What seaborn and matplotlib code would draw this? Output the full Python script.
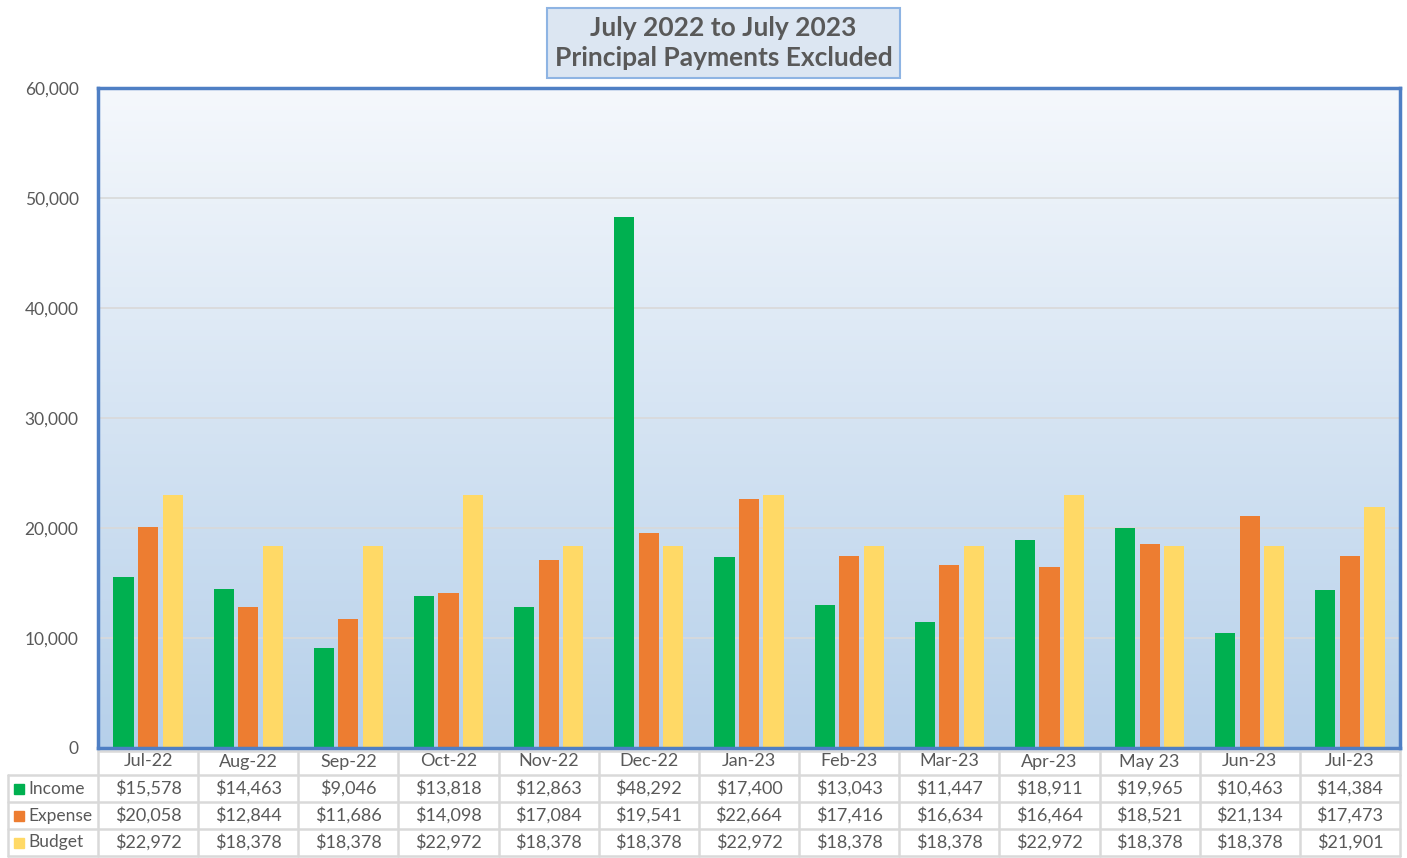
import pandas as pd
import matplotlib.pyplot as plt
import seaborn as sns
import numpy as np
from matplotlib.colors import LinearSegmentedColormap
from matplotlib.lines import Line2D
from matplotlib.ticker import FuncFormatter

months = ["Jul-22", "Aug-22", "Sep-22", "Oct-22", "Nov-22", "Dec-22", "Jan-23",
          "Feb-23", "Mar-23", "Apr-23", "May 23", "Jun-23", "Jul-23"]
income = [15578, 14463, 9046, 13818, 12863, 48292, 17400, 13043, 11447, 18911, 19965, 10463, 14384]
expense = [20058, 12844, 11686, 14098, 17084, 19541, 22664, 17416, 16634, 16464, 18521, 21134, 17473]
budget = [22972, 18378, 18378, 22972, 18378, 18378, 22972, 18378, 18378, 22972, 18378, 18378, 21901]
series = ["Income", "Expense", "Budget"]
colors = ["#00b050", "#ed7d31", "#ffd966"]

df = pd.DataFrame({"Month": months, "Income": income, "Expense": expense, "Budget": budget})
df_long = df.melt(id_vars="Month", var_name="Series", value_name="Value")

sns.set_style("white")
plt.rcParams['font.family'] = ['Lato', 'DejaVu Sans']
txt_col = "#595959"

fig = plt.figure(figsize=(14.07, 8.58), dpi=100)
ax = fig.add_axes([98 / 1407, 110 / 858, 1302 / 1407, 660 / 858])

# background gradient
cmap = LinearSegmentedColormap.from_list("bg", ["#b6d0ea", "#f5f8fc"])
grad = np.linspace(0, 1, 256).reshape(-1, 1)
ax.imshow(grad, extent=[0, 1, 0, 1], transform=ax.transAxes, origin="lower",
          aspect="auto", cmap=cmap, zorder=0)

sns.barplot(data=df_long, x="Month", y="Value", hue="Series", hue_order=series,
            palette=colors, width=0.735, gap=0.18, saturation=1, legend=False,
            linewidth=0, ax=ax, zorder=2)

ax.set_xlim(-0.5, len(months) - 0.5)
ax.set_ylim(0, 60000)
ax.set_yticks(np.arange(0, 60001, 10000))
ax.yaxis.set_major_formatter(FuncFormatter(lambda v, p: f"{int(v):,}"))
ax.tick_params(axis="y", labelsize=12.5, labelcolor=txt_col, length=0, pad=14)
ax.set_xticks([])
ax.set_xlabel("")
ax.set_ylabel("")
ax.set_axisbelow(True)
ax.grid(axis="y", color="#d9d9d9", lw=1.2)
for s in ax.spines.values():
    s.set_color("#4f7fc4")
    s.set_linewidth(2.5)

# data table underneath
xt = ax.get_xaxis_transform()
rh = 27 / 660
fs = 13
line_kw = dict(color="#d9d9d9", lw=1.8, clip_on=False)
for i, m in enumerate(months):
    ax.text(i, -0.5 * rh, m, transform=xt, ha="center", va="center",
            fontsize=fs, color=txt_col)
    for r, vals in enumerate([income, expense, budget]):
        ax.text(i, -(r + 1.5) * rh, f"${vals[i]:,}", transform=xt, ha="center",
                va="center", fontsize=fs, color=txt_col)
for b in np.arange(len(months) + 1) - 0.5:
    ax.add_line(Line2D([b, b], [-0.004, -4 * rh], transform=xt, **line_kw))
ax.add_line(Line2D([-0.5, len(months) - 0.5], [-0.004, -0.004], transform=xt, **line_kw))
left = -90 / 1302
for r in range(1, 5):
    ax.add_line(Line2D([left, 1], [-r * rh, -r * rh], transform=ax.transAxes, **line_kw))
ax.add_line(Line2D([left, left], [-rh, -4 * rh], transform=ax.transAxes, **line_kw))
for r, (name, c) in enumerate(zip(series, colors)):
    y = -(r + 1.5) * rh
    ax.plot([-79 / 1302], [y], marker="s", ms=7.5, color=c, transform=ax.transAxes,
            clip_on=False, ls="none")
    ax.text(-70 / 1302, y, name, transform=ax.transAxes, ha="left", va="center",
            fontsize=12.5, color=txt_col)

fig.text(723.5 / 1407, 1 - 43 / 858, "July 2022 to July 2023\nPrincipal Payments Excluded",
         ha="center", va="center", fontsize=19, fontweight="bold", color=txt_col,
         linespacing=1.3,
         bbox=dict(boxstyle="square,pad=0.3", fc="#dce6f2", ec="#8eb4e3", lw=1.5))

fig.savefig("out.png", dpi=100)
plt.close("all")
